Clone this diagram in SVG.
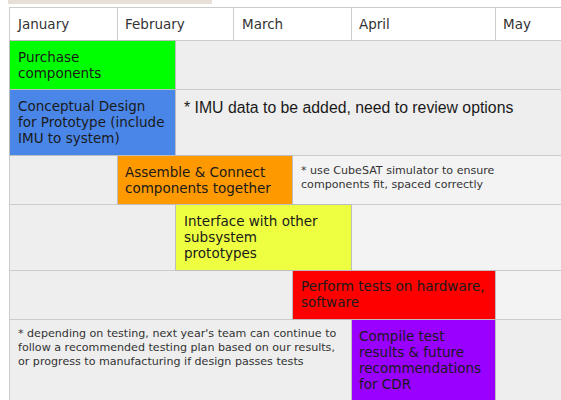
<svg xmlns="http://www.w3.org/2000/svg" width="561" height="400" viewBox="0 0 561 400">
<style>
.cell{fill:#eeeeee;stroke:#cccccc;stroke-width:1}
.note{fill:#f3f3f3;stroke:#cccccc;stroke-width:1}
.hdr{fill:#ffffff;stroke:#cccccc;stroke-width:1}
.bar{stroke:#bdbdbd;stroke-width:1}
.m{font-family:"DejaVu Sans",sans-serif;font-size:13.5px;fill:#1a1a1a}
.h{font-family:"DejaVu Sans",sans-serif;font-size:13.5px;fill:#333333}
.s{font-family:"DejaVu Sans",sans-serif;font-size:11.1px;fill:#333333}
.a{font-family:"Liberation Sans",Arial,sans-serif;font-size:15.8px;fill:#1a1a1a}
</style>
<rect x="8" y="0" width="204" height="4" fill="#e6e0d6"/>
<g id="header">
<rect class="hdr" x="9.5" y="7.5" width="108" height="33"/>
<rect class="hdr" x="117.5" y="7.5" width="116" height="33"/>
<rect class="hdr" x="233.5" y="7.5" width="118" height="33"/>
<rect class="hdr" x="351.5" y="7.5" width="144" height="33"/>
<rect class="hdr" x="495.5" y="7.5" width="70" height="33"/>
<text class="h" x="18" y="29">January</text>
<text class="h" x="125" y="29">February</text>
<text class="h" x="242" y="29">March</text>
<text class="h" x="359" y="29">April</text>
<text class="h" x="503" y="29">May</text>
</g>
<g id="rows">
<rect class="cell" x="9.5" y="40.5" width="556" height="49"/>
<rect class="cell" x="9.5" y="89.5" width="556" height="66"/>
<rect class="cell" x="9.5" y="155.5" width="108" height="49"/>
<rect class="note" x="292.5" y="155.5" width="273" height="49"/>
<rect class="cell" x="9.5" y="204.5" width="166" height="66"/>
<rect class="note" x="351.5" y="204.5" width="214" height="66"/>
<rect class="cell" x="9.5" y="270.5" width="283" height="49"/>
<rect class="note" x="495.5" y="270.5" width="70" height="49"/>
<rect class="cell" x="9.5" y="319.5" width="342" height="85"/>
<rect class="cell" x="495.5" y="319.5" width="70" height="85"/>
</g>
<g id="purchase">
<rect x="9.5" y="40.5" width="166" height="49" fill="#00ff00" class="bar"/>
<text class="m" x="18" y="62">Purchase</text>
<text class="m" x="18" y="78">components</text>
</g>
<g id="conceptual">
<rect x="9.5" y="89.5" width="166" height="66" fill="#4a86e8" class="bar"/>
<text class="m" x="18" y="111">Conceptual Design</text>
<text class="m" x="18" y="127">for Prototype (include</text>
<text class="m" x="18" y="143">IMU to system)</text>
</g>
<text class="a" x="184" y="113">* IMU data to be added, need to review options</text>
<g id="assemble">
<rect x="117.5" y="155.5" width="175" height="49" fill="#ff9900" class="bar"/>
<text class="m" x="125" y="177">Assemble &amp; Connect</text>
<text class="m" x="125" y="193">components together</text>
</g>
<text class="s" x="301" y="174">* use CubeSAT simulator to ensure</text>
<text class="s" x="301" y="188">components fit, spaced correctly</text>
<g id="interface">
<rect x="175.5" y="204.5" width="176" height="66" fill="#eeff41" class="bar"/>
<text class="m" x="184" y="226">Interface with other</text>
<text class="m" x="184" y="242">subsystem</text>
<text class="m" x="184" y="258">prototypes</text>
</g>
<g id="perform">
<rect x="292.5" y="270.5" width="203" height="49" fill="#ff0000" class="bar"/>
<text class="m" x="301" y="291">Perform tests on hardware,</text>
<text class="m" x="301" y="307">software</text>
</g>
<text class="s" x="18" y="337">* depending on testing, next year's team can continue to</text>
<text class="s" x="18" y="351">follow a recommended testing plan based on our results,</text>
<text class="s" x="18" y="365">or progress to manufacturing if design passes tests</text>
<g id="compile">
<rect x="351.5" y="319.5" width="144" height="85" fill="#9900ff" class="bar"/>
<text class="m" x="359" y="341">Compile test</text>
<text class="m" x="359" y="357">results &amp; future</text>
<text class="m" x="359" y="373">recommendations</text>
<text class="m" x="359" y="389">for CDR</text>
</g>
<g id="connectors"/>
</svg>
